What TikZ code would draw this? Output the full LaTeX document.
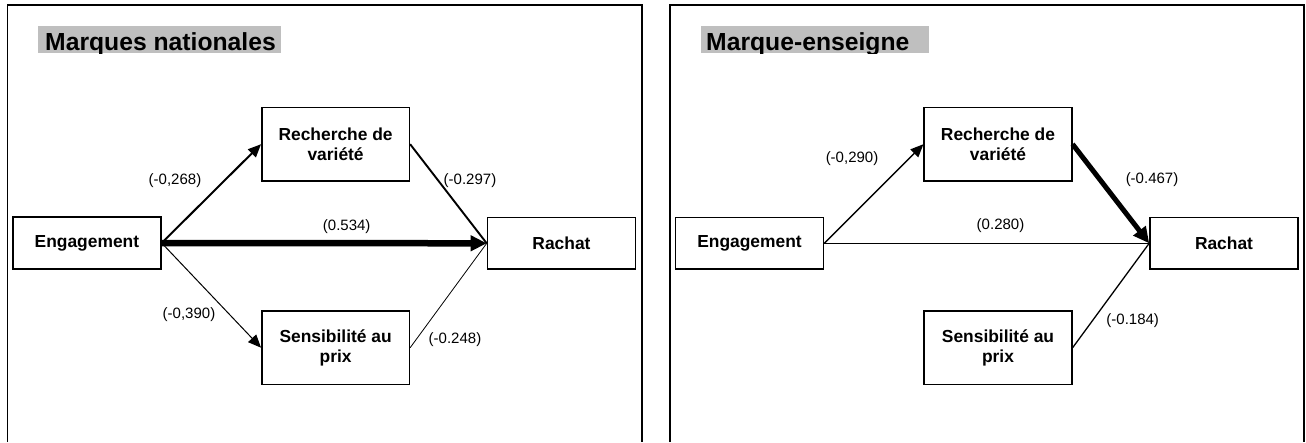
\documentclass[tikz,border=0pt]{standalone}
\usepackage{fontspec}
\setmainfont{Liberation Sans}
\usetikzlibrary{arrows.meta}
\begin{document}
\begin{tikzpicture}[x=1pt,y=-1pt,
  box/.style={draw,line width=1.6pt,inner sep=0pt,align=center,font=\bfseries\fontsize{17.4}{20}\selectfont},
  widebox/.style={box,minimum width=148pt,minimum height=51.5pt},
  tallbox/.style={box,minimum width=147.5pt,minimum height=73.5pt},
  coef/.style={inner sep=0pt,font=\fontsize{15}{18}\selectfont},
  framestyle/.style={line width=1.6pt},
  tip/.style={-{Triangle[length=13pt,width=11pt]}},
  bigtip/.style={-{Triangle[length=16pt,width=15pt]}},
  titlebg/.style={fill=black!25,inner sep=0pt,anchor=north west,minimum height=26.7pt},
  titletext/.style={font=\bfseries\fontsize{24.7}{28}\selectfont,anchor=base west,inner sep=0pt}
]
\useasboundingbox (0,0) rectangle (1306,442);

% ---------- left panel ----------
\draw[framestyle] (7.5,442) -- (7.5,4.7) -- (641.7,4.7) -- (641.7,442);
\node[titlebg,minimum width=243.3pt] (tbg1) at (37.7,26) {};
\begin{scope}
  \clip (tbg1.north west) rectangle (tbg1.south east);
  \node[titletext] (t1) at (45,50) {Marques nationales};
\end{scope}

\node[widebox] (eng1) at (86.9,243) {Engagement};
\node[tallbox] (rech1) at (335.6,144.2) {Recherche de\\variété};
\node[tallbox] (sens1) at (335.6,347.7) {Sensibilité au\\prix};
\node[widebox] (rach1) at (561.5,243.3) {Rachat};

\draw[tip,line width=2pt] (eng1.east) -- (rech1.west);
\draw[line width=1.9pt] (rech1.east) -- (rach1.west);
\draw[bigtip,line width=6.5pt] (eng1.east) -- (rach1.west);
\draw[tip,line width=1pt] (eng1.east) -- (sens1.west);
\draw[line width=0.8pt] (sens1.east) -- (rach1.west);

\node[coef] (c1a) at (175,181) {(-0,268)};
\node[coef] (c1b) at (346.7,226.7) {(0.534)};
\node[coef] (c1c) at (470,181) {(-0.297)};
\node[coef] (c1d) at (189,315) {(-0,390)};
\node[coef] (c1e) at (455,340) {(-0.248)};

% ---------- right panel ----------
\draw[framestyle] (670,442) -- (670,4.7) -- (1303.7,4.7) -- (1303.7,442);
\node[titlebg,minimum width=228.3pt] (tbg2) at (700.7,26) {};
\begin{scope}
  \clip (tbg2.north west) rectangle (tbg2.south east);
  \node[titletext] (t2) at (706,50) {Marque-enseigne};
\end{scope}

\node[widebox] (eng2) at (749.5,243.3) {Engagement};
\node[tallbox] (rech2) at (998,144.2) {Recherche de\\variété};
\node[tallbox] (sens2) at (998,347.8) {Sensibilité au\\prix};
\node[widebox] (rach2) at (1224,243.3) {Rachat};

\draw[tip,line width=1.3pt] (eng2.east) -- (rech2.west);
\draw[line width=1.3pt] (eng2.east) -- (rach2.west);
\draw[bigtip,line width=5pt] (rech2.east) -- (rach2.west);
\draw[line width=1.3pt] (sens2.east) -- (rach2.west);

\node[coef] (c2a) at (852,158.3) {(-0,290)};
\node[coef] (c2b) at (1000.5,225.5) {(0.280)};
\node[coef] (c2c) at (1152,180) {(-0.467)};
\node[coef] (c2d) at (1132.7,321) {(-0.184)};
\end{tikzpicture}
\end{document}
